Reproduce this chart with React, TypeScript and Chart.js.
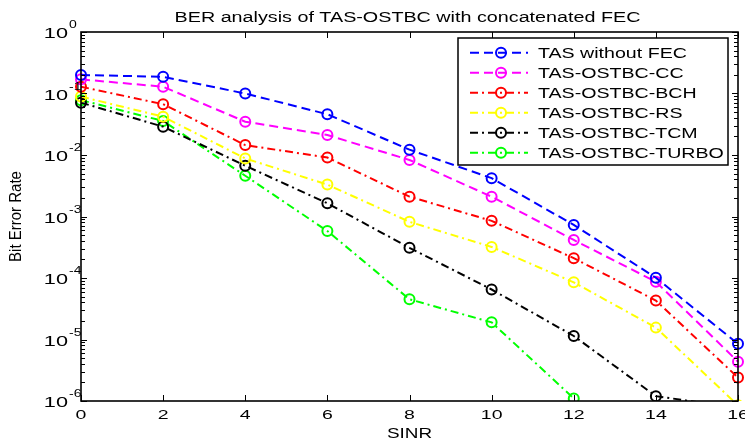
import React, { useEffect, useRef } from 'react';
import { Chart, registerables } from 'chart.js';

Chart.register(...registerables);

// ---- data ----
const sinr = [0, 2, 4, 6, 8, 10, 12, 14, 16];
const berNoFec = [0.2, 0.187, 0.1, 0.046, 0.0122, 0.0042, 7.3e-4, 1.01e-4, 8.5e-6];
const berCC = [0.17, 0.129, 0.0348, 0.0211, 0.0083, 0.0021, 4.15e-4, 8.7e-5, 4.35e-6];
const berBCH = [0.129, 0.067, 0.0145, 0.0091, 0.0021, 8.5e-4, 2.1e-4, 4.3e-5, 2.4e-6];
const berRS = [0.089, 0.042, 0.0088, 0.0033, 8.2e-4, 3.2e-4, 8.5e-5, 1.56e-5, 8.5e-7];
const berTCM = [0.071, 0.0289, 0.0067, 0.00164, 3.1e-4, 6.5e-5, 1.14e-5, 1.2e-6, 7.7e-7];
const berTurbo = [0.078, 0.0357, 0.0046, 5.8e-4, 4.5e-5, 1.9e-5, 1.1e-6, null, null];

const seriesLabels = [
  'TAS without FEC',
  'TAS-OSTBC-CC',
  'TAS-OSTBC-BCH',
  'TAS-OSTBC-RS',
  'TAS-OSTBC-TCM',
  'TAS-OSTBC-TURBO',
];
const seriesValues = [berNoFec, berCC, berBCH, berRS, berTCM, berTurbo];
const seriesColors = ['#0000ff', '#ff00ff', '#ff0000', '#ffff00', '#000000', '#00ff00'];
const DASH = [9, 5];
const DASH_DOT = [8, 4, 2, 4];
const seriesDashes = [DASH, DASH, DASH_DOT, DASH_DOT, DASH_DOT, DASH_DOT];

const xTickValues = [0, 2, 4, 6, 8, 10, 12, 14, 16];
const yTickExponents = [0, -1, -2, -3, -4, -5, -6];
const titleText = 'BER analysis of TAS-OSTBC with concatenated FEC';
const xLabel = 'SINR';
const yLabel = 'Bit Error Rate';

const FONT = '"Liberation Sans", Arial, Helvetica, sans-serif';

function stretchText(
  ctx: CanvasRenderingContext2D,
  text: string,
  x: number,
  y: number,
  size: number,
  sx: number,
  align: CanvasTextAlign
) {
  ctx.save();
  ctx.font = `${size}px ${FONT}`;
  ctx.fillStyle = '#000';
  ctx.textAlign = align;
  ctx.textBaseline = 'alphabetic';
  ctx.translate(x, y);
  ctx.scale(sx, 1);
  ctx.fillText(text, 0, 0);
  ctx.restore();
}

function seg(ctx: CanvasRenderingContext2D, x1: number, y1: number, x2: number, y2: number) {
  ctx.beginPath();
  ctx.moveTo(x1, y1);
  ctx.lineTo(x2, y2);
  ctx.stroke();
}

const matlabPlugin = {
  id: 'matlabFrame',
  afterDatasetsDraw(chart: any) {
    const ctx: CanvasRenderingContext2D = chart.ctx;
    const { left, right, top, bottom } = chart.chartArea;
    const xs = chart.scales.x;
    const ys = chart.scales.y;
    ctx.save();
    ctx.setLineDash([]);
    ctx.strokeStyle = '#000';

    // ticks
    ctx.lineWidth = 1;
    xTickValues.forEach((v) => {
      const px = Math.round(xs.getPixelForValue(v)) + 0.5;
      seg(ctx, px, bottom, px, bottom - 6);
      seg(ctx, px, top, px, top + 6);
    });
    yTickExponents.forEach((e) => {
      const py = Math.round(ys.getPixelForValue(Math.pow(10, e))) + 0.5;
      seg(ctx, left, py, left + 6, py);
      seg(ctx, right, py, right - 6, py);
      if (e > -6) {
        for (let m = 2; m <= 9; m++) {
          const pm = Math.round(ys.getPixelForValue(m * Math.pow(10, e - 1))) + 0.5;
          seg(ctx, left, pm, left + 4, pm);
          seg(ctx, right, pm, right - 4, pm);
        }
      }
    });

    // frame
    ctx.lineWidth = 1.6;
    ctx.strokeRect(left, top, right - left, bottom - top);

    // tick labels
    xTickValues.forEach((v) => {
      const px = xs.getPixelForValue(v);
      stretchText(ctx, String(v), px, bottom + 18, 13, 1.5, 'center');
    });
    yTickExponents.forEach((e) => {
      const py = ys.getPixelForValue(Math.pow(10, e));
      stretchText(ctx, '10', left - 13, py + 6, 14, 1.55, 'right');
      stretchText(ctx, String(e), left - 12, py - 4, 10, 1.4, 'left');
    });

    // title and axis labels
    stretchText(ctx, titleText, (left + right) / 2 - 2, 22, 14, 1.41, 'center');
    stretchText(ctx, xLabel, (left + right) / 2, 438, 14, 1.35, 'center');
    ctx.save();
    ctx.translate(16, (top + bottom) / 2);
    ctx.rotate(-Math.PI / 2);
    ctx.scale(1, 1.15);
    ctx.font = `15px ${FONT}`;
    ctx.fillStyle = '#000';
    ctx.textAlign = 'center';
    ctx.textBaseline = 'middle';
    ctx.fillText(yLabel, 0, 0);
    ctx.restore();

    // legend
    const lx = 458;
    const ly = top + 6;
    const lw = right - 10 - lx;
    const lh = 127;
    ctx.fillStyle = '#fff';
    ctx.fillRect(lx, ly, lw, lh);
    ctx.lineWidth = 1.5;
    ctx.strokeStyle = '#000';
    ctx.strokeRect(lx, ly, lw, lh);
    seriesLabels.forEach((label, i) => {
      const cy = ly + 14.7 + i * 20;
      ctx.strokeStyle = seriesColors[i];
      ctx.lineWidth = 2;
      ctx.setLineDash(seriesDashes[i]);
      seg(ctx, lx + 12, cy, lx + 70, cy);
      ctx.setLineDash([]);
      ctx.beginPath();
      ctx.arc(lx + 43, cy, 5, 0, Math.PI * 2);
      ctx.stroke();
      stretchText(ctx, label, lx + 80, cy + 5, 14, 1.4, 'left');
    });
    ctx.restore();
  },
};

export default function App() {
  const canvasRef = useRef<HTMLCanvasElement | null>(null);

  useEffect(() => {
    const canvas = canvasRef.current;
    if (!canvas) return;
    const datasets = seriesLabels.map((label, i) => ({
      label,
      data: sinr.map((x, j) => ({ x, y: seriesValues[i][j] })),
      borderColor: seriesColors[i],
      backgroundColor: 'rgba(0,0,0,0)',
      borderWidth: 2,
      borderDash: seriesDashes[i],
      pointRadius: 5,
      pointBorderWidth: 2,
      pointBorderColor: seriesColors[i],
      pointBackgroundColor: 'rgba(0,0,0,0)',
      pointStyle: 'circle',
      fill: false,
      tension: 0,
      spanGaps: false,
      clip: { left: 8, right: 8, top: 8, bottom: 0 },
    }));
    const chart = new Chart(canvas, {
      type: 'line',
      data: { datasets },
      options: {
        responsive: false,
        animation: false,
        devicePixelRatio: 1,
        layout: { padding: { left: 81, right: 5, top: 32, bottom: 40 } },
        plugins: {
          legend: { display: false },
          title: { display: false },
          tooltip: { enabled: false },
        },
        scales: {
          x: { type: 'linear', display: false, min: 0, max: 16 },
          y: { type: 'logarithmic', display: false, min: 1e-6, max: 1 },
        },
      } as any,
      plugins: [matlabPlugin],
    });
    return () => chart.destroy();
  }, []);

  return (
    <div style={{ position: 'fixed', left: 0, top: 0, width: 745, height: 441, background: '#fff' }}>
      <canvas ref={canvasRef} width={745} height={441} style={{ display: 'block' }} />
    </div>
  );
}
